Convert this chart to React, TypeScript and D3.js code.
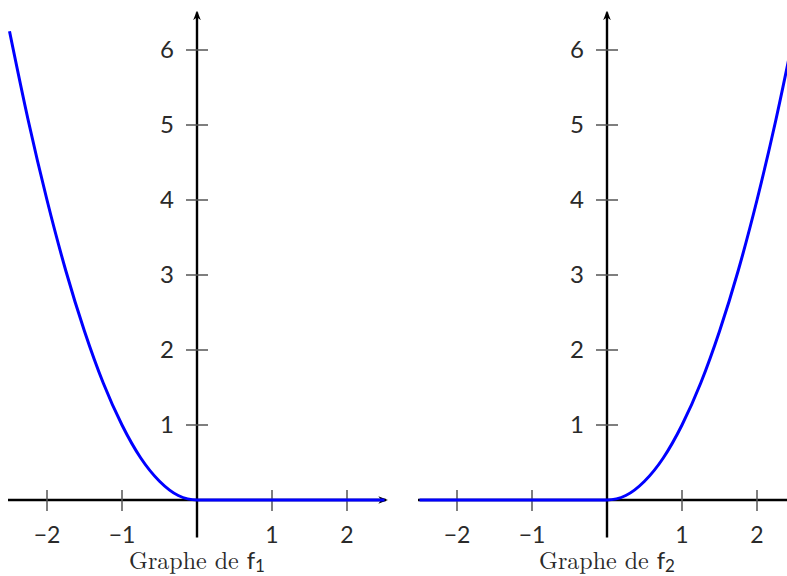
import React from 'react';
import * as d3 from 'd3';

// values
const xTicks = [-2, -1, 1, 2];
const yTicks = [1, 2, 3, 4, 5, 6];
const f1X = [-2.5, -2.25, -2, -1.75, -1.5, -1.25, -1, -0.75, -0.5, -0.25, 0, 2.5];
const f1Y = [6.25, 5.06, 4, 3.06, 2.25, 1.56, 1, 0.56, 0.25, 0.06, 0, 0];
const f2X = [-2.5, 0, 0.25, 0.5, 0.75, 1, 1.25, 1.5, 1.75, 2, 2.25, 2.5];
const f2Y = [0, 0, 0.06, 0.25, 0.56, 1, 1.56, 2.25, 3.06, 4, 5.06, 6.25];
const titles = ['1', '2'];

const W = 787;
const H = 576;
const unit = 75;

const numFont = 'Lato, "Open Sans", sans-serif';
const serifFont = '"Latin Modern Roman", "DejaVu Serif", "Liberation Serif", serif';

type PanelProps = { ox: number; xs: number[]; ys: number[]; sub: string; id: string };

const Panel = ({ ox, xs, ys, sub, id }: PanelProps) => {
  const x = d3.scaleLinear().domain([-2.5, 2.5]).range([ox - 2.5 * unit, ox + 2.5 * unit]);
  const y = d3.scaleLinear().domain([0, 6]).range([500, 500 - 6 * unit]);

  const line = d3
    .line<number>()
    .x((_, i) => x(xs[i]))
    .y((d) => y(d))
    .curve(d3.curveMonotoneX);

  return (
    <g>
      {/* x axis */}
      <line x1={x(-2.52)} x2={x(2.52)} y1={y(0)} y2={y(0)} stroke="#000" strokeWidth={2.4} markerEnd={`url(#arr${id})`} />
      {/* y axis */}
      <line x1={x(0)} x2={x(0)} y1={y(-0.5)} y2={y(6.5)} stroke="#000" strokeWidth={2.4} markerEnd={`url(#arr${id})`} />
      {xTicks.map((t) => (
        <g key={'x' + t}>
          <line x1={x(t)} x2={x(t)} y1={y(0) - 10} y2={y(0) + 11} stroke="#555" strokeWidth={1.5} />
          <text x={x(t)} y={543} textAnchor="middle" fontFamily={numFont} fontSize={23} fill="#2a2a2a">
            {t < 0 ? '\u2212' + Math.abs(t) : t}
          </text>
        </g>
      ))}
      {yTicks.map((t) => (
        <g key={'y' + t}>
          <line x1={x(0) - 11} x2={x(0) + 11} y1={y(t)} y2={y(t)} stroke="#555" strokeWidth={1.5} />
          <text x={x(0) - 23} y={y(t) + 8} textAnchor="end" fontFamily={numFont} fontSize={24} fill="#2a2a2a">
            {t}
          </text>
        </g>
      ))}
      <path d={line(ys) || ''} fill="none" stroke="#0000ff" strokeWidth={3} />
      <text x={x(0)} y={569} textAnchor="middle" fontFamily={serifFont} fontSize={24} fill="#2a2a2a">
        Graphe de <tspan fontFamily={numFont}>f</tspan>
        <tspan fontFamily={numFont} fontSize={17} dy={3}>{sub}</tspan>
      </text>
    </g>
  );
};

export default function App() {
  return (
    <svg width={W} height={H} style={{ position: 'absolute', left: 0, top: 0, background: '#fff' }}>
      <defs>
        {['a', 'b'].map((id) => (
          <marker key={id} id={`arr${id}`} viewBox="0 0 10 10" refX={8} refY={5} markerWidth={4} markerHeight={4} orient="auto">
            <path d="M0,1 L10,5 L0,9 L3,5 Z" fill="#000" />
          </marker>
        ))}
      </defs>
      <Panel ox={197} xs={f1X} ys={f1Y} sub={titles[0]} id="a" />
      <Panel ox={607} xs={f2X} ys={f2Y} sub={titles[1]} id="b" />
    </svg>
  );
}
